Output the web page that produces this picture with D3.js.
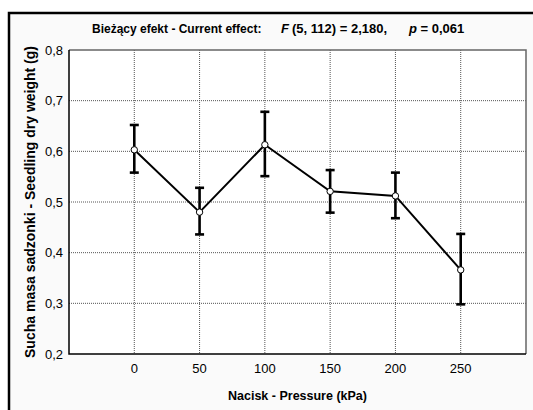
<!doctype html>
<html>
  <head>
    <meta charset='UTF-8'>
    <title>Sucha masa sadzonki</title>
    <script src="https://d3js.org/d3.v7.min.js"></script>
    <style>
      body { margin: 0; background: #fff; }
      text { font-family: "Liberation Sans", Arial, sans-serif; }
    </style>
  </head>
  <body>
    <svg id='render' width='533' height='410'></svg>
    <script>
      // values
      const pressures = [0, 50, 100, 150, 200, 250];
      const means = [0.603, 0.480, 0.613, 0.521, 0.512, 0.366];
      const upper = [0.652, 0.528, 0.678, 0.563, 0.558, 0.437];
      const lower = [0.558, 0.436, 0.551, 0.479, 0.468, 0.298];
      const yTicks = [0.2, 0.3, 0.4, 0.5, 0.6, 0.7, 0.8];

      const svg = d3.select("#render");
      const m = {left: 69, right: 526, top: 50, bottom: 354};

      // outer frame (clipped at right / bottom like the source)
      svg.append("rect").attr("x", 9).attr("y", 13).attr("width", 540).attr("height", 420)
          .attr("fill", "#fafafa").attr("stroke", "black").attr("stroke-width", 2.5);

      const x = d3.scaleLinear().domain([-50, 300]).range([m.left, m.right]);
      const y = d3.scaleLinear().domain([0.2, 0.8]).range([m.bottom, m.top]);

      svg.append("rect").attr("x", m.left).attr("y", m.top)
          .attr("width", m.right - m.left).attr("height", m.bottom - m.top)
          .attr("fill", "white");

      // grid
      svg.append("g").selectAll("line").data(pressures).enter().append("line")
          .attr("x1", d => x(d)).attr("x2", d => x(d))
          .attr("y1", m.top).attr("y2", m.bottom)
          .attr("stroke", "#555").attr("stroke-width", 1).attr("stroke-dasharray", "1,1");
      svg.append("g").selectAll("line").data(yTicks.slice(1, -1)).enter().append("line")
          .attr("x1", m.left).attr("x2", m.right)
          .attr("y1", d => y(d)).attr("y2", d => y(d))
          .attr("stroke", "#555").attr("stroke-width", 1).attr("stroke-dasharray", "1,1");

      // frame
      svg.append("path")
          .attr("d", `M${m.left},${m.top}H${m.right}V${m.bottom}`)
          .attr("fill", "none").attr("stroke", "#666").attr("stroke-width", 1.5);
      svg.append("path")
          .attr("d", `M${m.left},${m.top}V${m.bottom}H${m.right}`)
          .attr("fill", "none").attr("stroke", "black").attr("stroke-width", 1.5);

      // tick labels
      svg.append("g").selectAll("text").data(yTicks).enter().append("text")
          .attr("x", m.left - 6).attr("y", d => y(d) + 4.5)
          .attr("text-anchor", "end").style("font-size", "13px")
          .text(d => d3.format(".1f")(d).replace(".", ","));
      svg.append("g").selectAll("text").data(pressures).enter().append("text")
          .attr("x", d => x(d)).attr("y", 373)
          .attr("text-anchor", "middle").style("font-size", "13px")
          .text(d => d);

      // error bars
      const idx = d3.range(pressures.length);
      const eb = svg.append("g").attr("stroke", "black").attr("stroke-width", 2.6);
      eb.selectAll(".v").data(idx).enter().append("line")
          .attr("x1", i => x(pressures[i])).attr("x2", i => x(pressures[i]))
          .attr("y1", i => y(upper[i])).attr("y2", i => y(lower[i]));
      eb.selectAll(".u").data(idx).enter().append("line")
          .attr("x1", i => x(pressures[i]) - 4.5).attr("x2", i => x(pressures[i]) + 4.5)
          .attr("y1", i => y(upper[i])).attr("y2", i => y(upper[i]));
      eb.selectAll(".l").data(idx).enter().append("line")
          .attr("x1", i => x(pressures[i]) - 4.5).attr("x2", i => x(pressures[i]) + 4.5)
          .attr("y1", i => y(lower[i])).attr("y2", i => y(lower[i]));

      // mean line
      svg.append("path").datum(idx)
          .attr("d", d3.line().x(i => x(pressures[i])).y(i => y(means[i])))
          .attr("fill", "none").attr("stroke", "black").attr("stroke-width", 2);
      svg.append("g").selectAll("circle").data(idx).enter().append("circle")
          .attr("cx", i => x(pressures[i])).attr("cy", i => y(means[i])).attr("r", 3.2)
          .attr("fill", "white").attr("stroke", "black").attr("stroke-width", 1);

      // title
      const t = svg.append("text").attr("x", 92).attr("y", 33)
          .style("font-size", "12px").style("font-weight", "bold");
      t.append("tspan").text("Bieżący efekt - Current effect:");
      t.append("tspan").attr("x", 281).style("font-style", "italic").style("font-size", "13px").text("F");
      t.append("tspan").attr("x", 292).style("font-size", "13px").text("(5, 112) = 2,180,");
      t.append("tspan").attr("x", 409).style("font-style", "italic").style("font-size", "13px").text("p");
      t.append("tspan").style("font-size", "13px").text(" = 0,061");

      // axis titles
      svg.append("text").attr("x", (m.left + m.right) / 2).attr("y", 400)
          .attr("text-anchor", "middle").style("font-size", "12.5px").style("font-weight", "bold")
          .text("Nacisk - Pressure (kPa)");
      svg.append("text")
          .attr("transform", `translate(35,${(m.top + m.bottom) / 2}) rotate(-90)`)
          .attr("text-anchor", "middle").style("font-size", "14px").style("font-weight", "bold")
          .text("Sucha masa sadzonki - Seedling dry weight (g)");
    </script>
  </body>
</html>
